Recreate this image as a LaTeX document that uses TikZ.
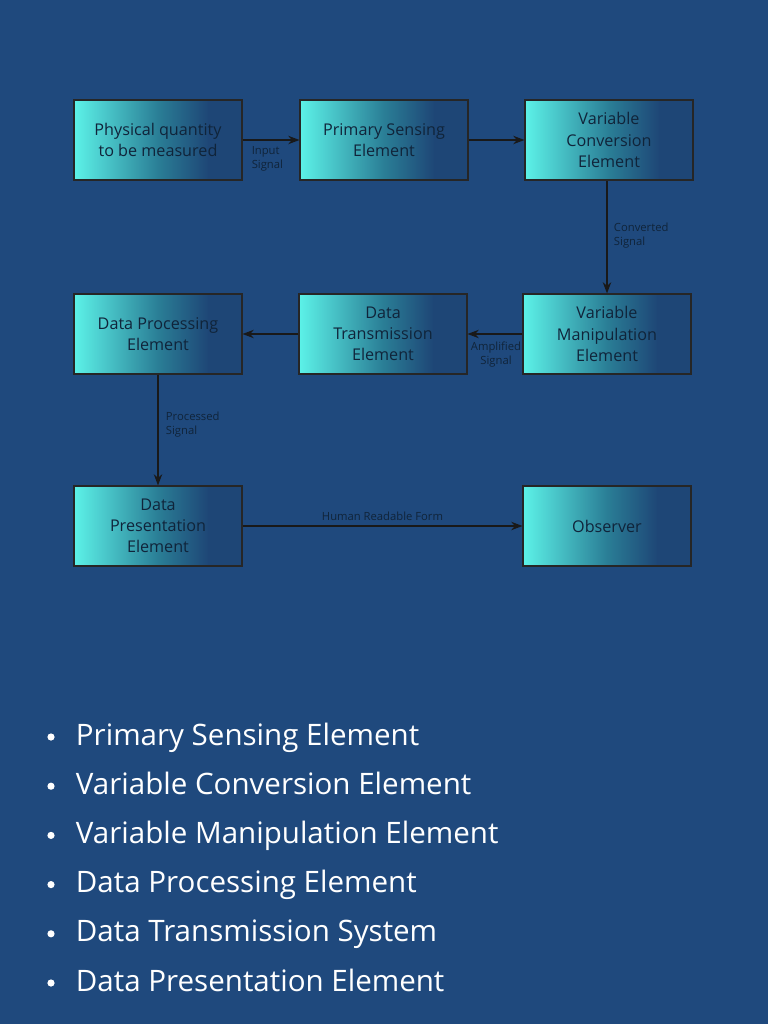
\documentclass[tikz,border=0pt]{standalone}
\usepackage{fontspec}
\setmainfont{Open Sans}
\usetikzlibrary{
  positioning,
  arrows.meta
}
\definecolor{bgblue}{HTML}{1F497D}
\definecolor{boxcyan}{HTML}{5CF2E8}
\definecolor{boxmid}{HTML}{2A7E96}
\definecolor{boxdark}{HTML}{1E4676}
\definecolor{boxtext}{HTML}{10243A}
\pgfdeclarehorizontalshading{boxshade}{100bp}{
  color(0bp)=(boxcyan); color(25bp)=(boxcyan); color(50bp)=(boxmid);
  color(65bp)=(boxdark); color(100bp)=(boxdark)}
\tikzset{
  block/.style={
    draw=black!85, line width=0.8pt,
    shading=boxshade,
    minimum width=168*0.025cm, minimum height=80*0.025cm,
    align=center, text=boxtext, font=\fontsize{11.5}{15}\selectfont
  },
  sig/.style={font=\fontsize{8}{10}\selectfont, text=boxtext, align=left},
  flow/.style={-{Stealth[length=8pt,width=6pt]}, line width=0.8pt, black!90},
  bullet/.style={text=white, anchor=base west, font=\fontsize{21}{25}\selectfont}
}

\begin{document}
\begin{tikzpicture}[x=0.025cm, y=-0.025cm]
\fill[bgblue] (0,0) rectangle (768,1024);
\useasboundingbox (0,0) rectangle (768,1024);

% first row
\node[block] (phys) at (158,140) {Physical quantity\\to be measured};
\node[block] (pse) at (384,140) {Primary Sensing\\Element};
\node[block] (vce) at (609,140) {Variable\\Conversion\\Element};
% second row
\node[block] (dpe) at (158,334) {Data Processing\\Element};
\node[block] (dte) at (383,334) {Data\\Transmission\\Element};
\node[block] (vme) at (607,334) {Variable\\Manipulation\\Element};
% third row
\node[block] (dpr) at (158,526) {Data\\Presentation\\Element};
\node[block] (obs) at (607,526) {Observer};

\draw[flow] (phys) -- (pse);
\draw[flow] (pse) -- (vce);
\draw[flow] (vce.south -| vme.north) -- (vme.north);
\draw[flow] (vme) -- (dte);
\draw[flow] (dte) -- (dpe);
\draw[flow] (dpe) -- (dpr);
\draw[flow] (dpr) -- node[sig, above] {Human Readable Form} (obs);

\node[sig, below right=1pt and 3pt of phys.east] (insig) {Input\\Signal};
\node[sig, anchor=west] (convsig) at (609,236) {Converted\\Signal};
\node[sig, anchor=north, align=center] (ampsig) at (496,337) {Amplified\\Signal};
\node[sig, anchor=west] (procsig) at (161,425) {Processed\\Signal};

% list
\foreach \t [count=\i from 0] in {Primary Sensing Element, Variable Conversion Element,
  Variable Manipulation Element, Data Processing Element,
  Data Transmission System, Data Presentation Element} {
  \node[bullet] (item\i) at (71,745+49.2*\i) {\t};
  \fill[white] (51,737+49.2*\i) circle (3.6);
}
\end{tikzpicture}
\end{document}
